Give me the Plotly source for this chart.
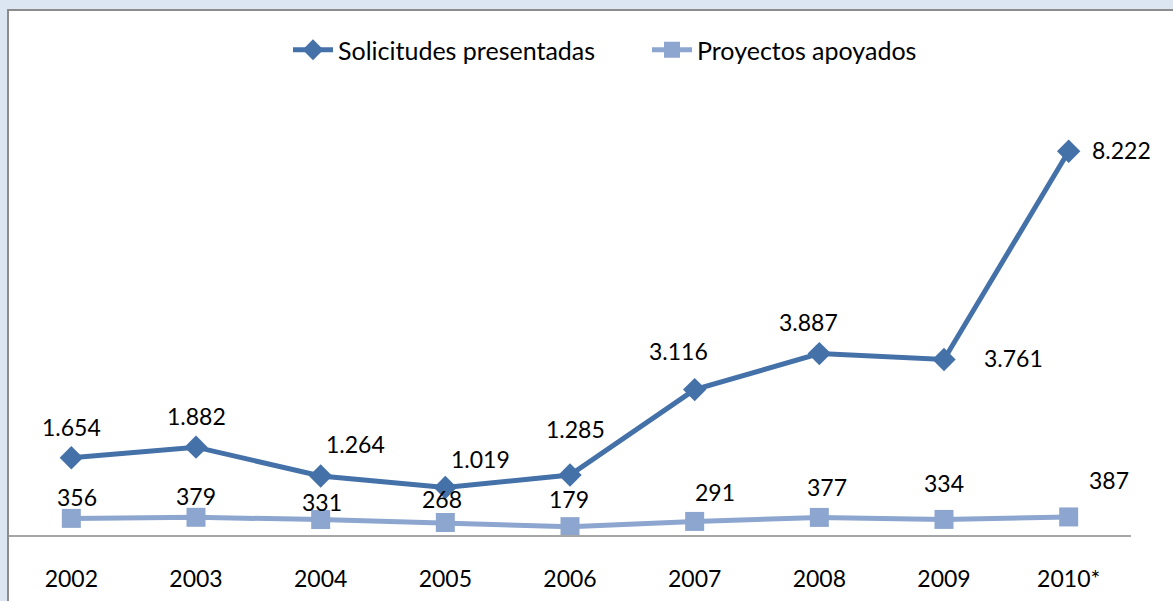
import plotly.graph_objects as go

years = ["2002", "2003", "2004", "2005", "2006", "2007", "2008", "2009", "2010*"]
solicitudes = [1654, 1882, 1264, 1019, 1285, 3116, 3887, 3761, 8222]
proyectos = [356, 379, 331, 268, 179, 291, 377, 334, 387]

# label offsets (pixels) mimicking manually positioned data labels
sol_dx = [0, 0, 35, 35, 5, -16, -11, 69, 53]
sol_dy = [31, 31, 32, 28, 46, 39, 32, 1, 1]
pro_dx = [6, 0, 1, -3, -1, 20, 8, 0, 40]
pro_dy = [21, 21, 18, 23, 28, 29, 30, 36, 37]

W, H = 1173, 601
FONT = "Lato"
C_SOL = "#4571A9"
C_PRO = "#8DA6CF"

def fmt(v):
    return f"{v:,}".replace(",", ".")

fig = go.Figure()
fig.add_trace(go.Scatter(
    x=years, y=solicitudes, name="Solicitudes presentadas",
    mode="lines+markers",
    line=dict(color=C_SOL, width=5),
    marker=dict(symbol="diamond", size=18, color=C_SOL),
))
fig.add_trace(go.Scatter(
    x=years, y=proyectos, name="Proyectos apoyados",
    mode="lines+markers",
    line=dict(color=C_PRO, width=5),
    marker=dict(symbol="square", size=19, color=C_PRO),
))

annotations = []
for i in range(len(years)):
    annotations.append(dict(x=i, y=solicitudes[i], xref="x", yref="y",
                            text=fmt(solicitudes[i]), showarrow=False,
                            xshift=sol_dx[i], yshift=sol_dy[i],
                            font=dict(family=FONT, size=23, color="#000000")))
    annotations.append(dict(x=i, y=proyectos[i], xref="x", yref="y",
                            text=fmt(proyectos[i]), showarrow=False,
                            xshift=pro_dx[i], yshift=pro_dy[i],
                            font=dict(family=FONT, size=23, color="#000000")))

# plot area geometry in pixels
x0, x1 = 9, 1131
y_zero, y_top = 535, 115

fig.update_layout(
    width=W, height=H,
    margin=dict(l=0, r=0, t=0, b=0),
    paper_bgcolor="#DCE6F2",
    plot_bgcolor="rgba(0,0,0,0)",
    font=dict(family=FONT, size=23, color="#000000"),
    showlegend=True,
    legend=dict(orientation="h", x=647 / W, xanchor="center", y=1 - 50 / H, yanchor="middle",
                font=dict(family=FONT, size=25, color="#000000"),
                bgcolor="rgba(0,0,0,0)", itemwidth=40, entrywidth=304, entrywidthmode="pixels"),
    xaxis=dict(domain=[x0 / W, x1 / W], range=[-0.5, 8.5], type="category",
               showgrid=False, zeroline=False,
               showline=True, linecolor="#A6A6A6", linewidth=2,
               ticks="outside", ticklen=22, tickcolor="rgba(0,0,0,0)",
               tickfont=dict(family=FONT, size=23, color="#000000")),
    yaxis=dict(domain=[1 - y_zero / H, 1 - y_top / H], range=[0, 9000],
               showgrid=False, zeroline=False, showline=False,
               showticklabels=False, ticks=""),
    annotations=annotations,
    shapes=[dict(type="rect", xref="paper", yref="paper",
                 x0=8 / W, x1=1.05, y0=-0.05, y1=1 - 10 / H,
                 fillcolor="#FFFFFF", line=dict(color="#8C8C8C", width=2),
                 layer="below")],
)

fig.write_html("out.html", config={"displayModeBar": False},
               post_script="document.body.style.margin='0';document.body.style.background='#DCE6F2';")
